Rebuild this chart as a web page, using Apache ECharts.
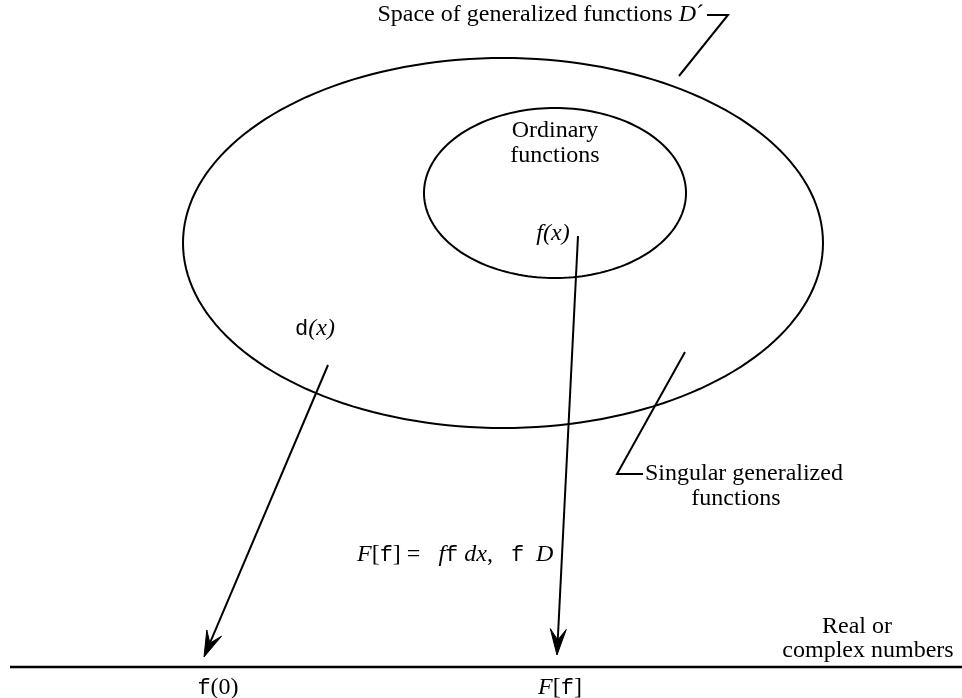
<!DOCTYPE html>
<html>
<head>
<meta charset="utf-8">
<script src="https://cdn.jsdelivr.net/npm/echarts@6/dist/echarts.min.js"></script>
<style>html,body{margin:0;padding:0;background:#fff}#c{width:962px;height:698px}</style>
</head>
<body>
<div id="c"></div>
<script>
// Diagram geometry in diagram units (x to the right, y downward)
const ellipses = [            // [cx, cy, rx, ry]
  [503, 243, 320, 185],       // space of generalized functions D'
  [555, 193, 131, 85]         // ordinary functions
];
const leaders = [             // polylines
  [[707, 15], [728, 15], [679, 76]],
  [[685, 352], [617, 474], [643, 474]]
];
const arrows = [              // [x1, y1, x2(tip), y2(tip)]
  [578, 236, 557, 655],
  [328, 365, 204, 657]
];
const baseline = [[10, 667], [962, 667]];
const labelTexts = [
  'Space of generalized functions {it|D}´',
  'Ordinary',
  'functions',
  '{it|f(x)}',
  '{m|d}{it|(x)}',
  'Singular generalized',
  'functions',
  '{it|F}[{m|f}] =   {it|f}{m|f}{it| dx}{n|,}   {m|f}  {it|D}',
  '{m|f}(0)',
  '{it|F}[{m|f}]',
  'Real or',
  'complex numbers'
];
const labelX = [704, 555, 555, 553, 315, 645, 736, 357, 218, 560, 857, 868];
const labelY = [15, 131, 156, 234, 329, 474, 499, 555, 688, 688, 627, 651];
const labelAlign = ['right', 'center', 'center', 'center', 'center', 'left', 'center', 'left', 'center', 'center', 'center', 'center'];

const SERIF = '"Liberation Serif", "Times New Roman", serif';
const MONO = '"Liberation Mono", "Courier New", monospace';
const rich = {
  it: { fontFamily: SERIF, fontStyle: 'italic', fontSize: 24, fill: '#000' },
  m: { fontFamily: MONO, fontSize: 22, fill: '#000' },
  n: { fontFamily: SERIF, fontSize: 24, fill: '#000' }
};

const chart = echarts.init(document.getElementById('c'), null, { renderer: 'canvas' });

const labelData = labelTexts.map((t, i) => [labelX[i], labelY[i], i]);

chart.setOption({
  backgroundColor: '#fff',
  animation: false,
  grid: { left: 0, right: 0, top: 0, bottom: 0 },
  xAxis: { type: 'value', min: 0, max: 962, show: false },
  yAxis: { type: 'value', min: 0, max: 698, inverse: true, show: false },
  series: [
    {
      type: 'custom',
      data: ellipses,
      renderItem: function (params, api) {
        const c = api.coord([api.value(0), api.value(1)]);
        const s = api.size([api.value(2), api.value(3)]);
        const pts = [];
        for (let k = 0; k <= 180; k++) {
          const a = k / 180 * Math.PI * 2;
          pts.push([c[0] + s[0] * Math.cos(a), c[1] + s[1] * Math.sin(a)]);
        }
        return { type: 'polygon', shape: { points: pts }, style: { fill: 'none', stroke: '#000', lineWidth: 2 } };
      }
    },
    {
      type: 'custom',
      data: leaders.map((l, i) => [i]),
      renderItem: function (params, api) {
        const pts = leaders[params.dataIndex].map(p => api.coord(p));
        return { type: 'polyline', shape: { points: pts }, style: { fill: 'none', stroke: '#000', lineWidth: 2 } };
      }
    },
    {
      type: 'custom',
      data: [0],
      renderItem: function (params, api) {
        const a = api.coord(baseline[0]);
        const b = api.coord(baseline[1]);
        return { type: 'line', shape: { x1: a[0], y1: a[1], x2: b[0], y2: b[1] }, style: { stroke: '#000', lineWidth: 2.5 } };
      }
    },
    {
      type: 'custom',
      data: arrows,
      renderItem: function (params, api) {
        const p1 = api.coord([api.value(0), api.value(1)]);
        const p2 = api.coord([api.value(2), api.value(3)]);
        const dx = p2[0] - p1[0], dy = p2[1] - p1[1];
        const len = Math.sqrt(dx * dx + dy * dy);
        const ux = dx / len, uy = dy / len;
        const nx = -uy, ny = ux;
        const L = 26, W = 8, notch = 15;
        const back = [p2[0] - ux * L, p2[1] - uy * L];
        const mid = [p2[0] - ux * notch, p2[1] - uy * notch];
        return {
          type: 'group',
          children: [
            { type: 'line', shape: { x1: p1[0], y1: p1[1], x2: mid[0], y2: mid[1] }, style: { stroke: '#000', lineWidth: 2 } },
            { type: 'polygon', shape: { points: [p2, [back[0] + nx * W, back[1] + ny * W], mid, [back[0] - nx * W, back[1] - ny * W]] }, style: { fill: '#000', stroke: '#000', lineWidth: 1 } }
          ]
        };
      }
    },
    {
      type: 'custom',
      data: labelData,
      renderItem: function (params, api) {
        const i = params.dataIndex;
        const p = api.coord([api.value(0), api.value(1)]);
        return {
          type: 'text',
          x: p[0], y: p[1],
          style: {
            text: labelTexts[i],
            fontFamily: SERIF, fontSize: 24, fill: '#000',
            align: labelAlign[i], verticalAlign: 'middle',
            rich: rich
          }
        };
      }
    }
  ]
});
</script>
</body>
</html>
